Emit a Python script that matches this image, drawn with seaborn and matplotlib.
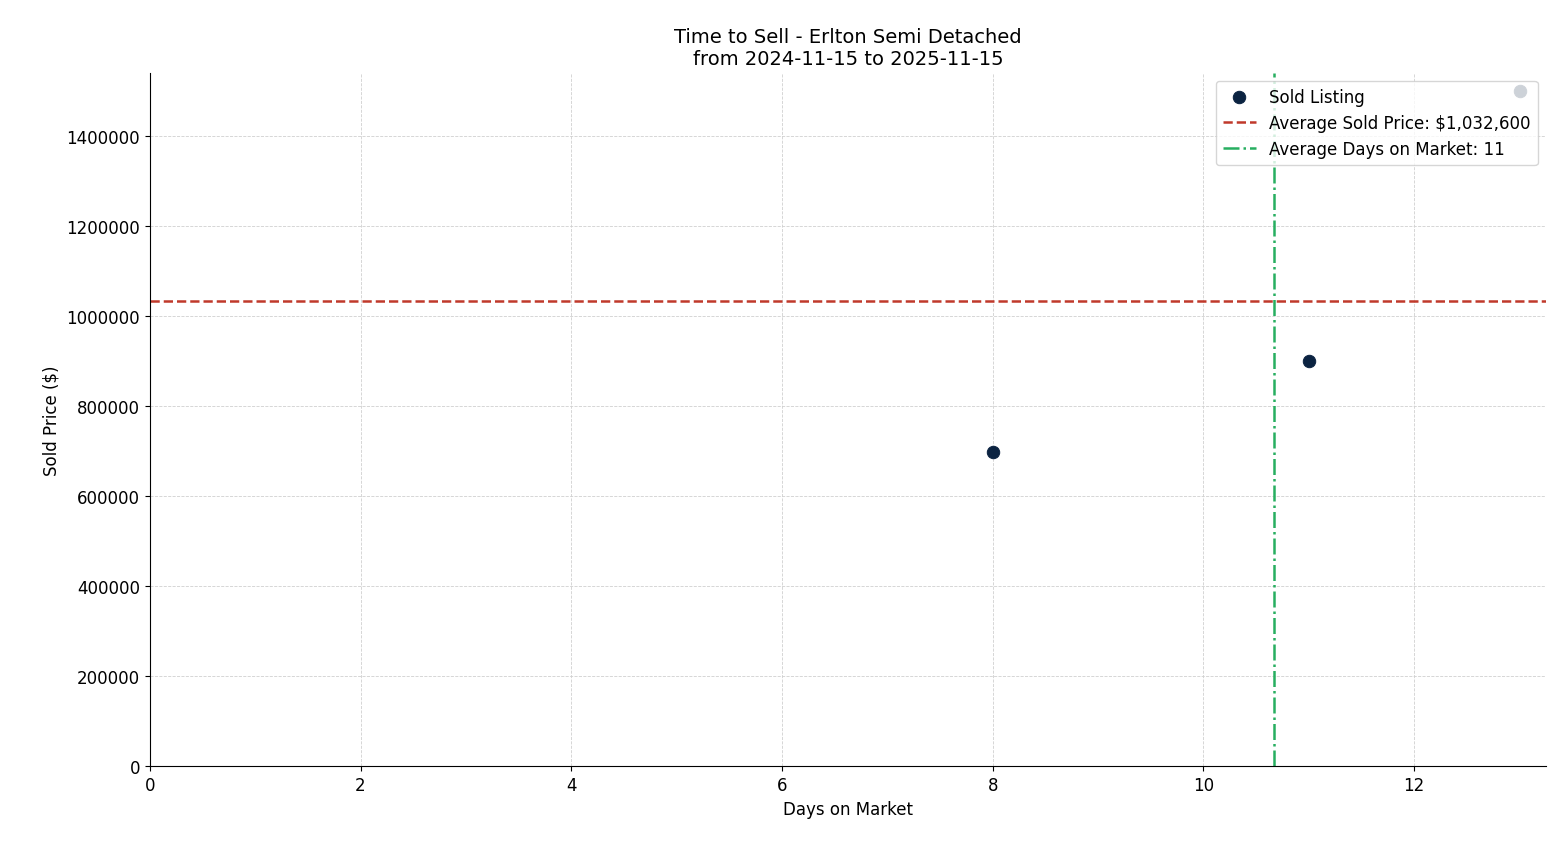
import numpy as np
import pandas as pd
import matplotlib
matplotlib.use("Agg")
import matplotlib.pyplot as plt
import seaborn as sns

days = [8, 11, 13]
prices = [697800, 900000, 1500000]
df = pd.DataFrame({"days": days, "price": prices})

avg_price = df["price"].mean()
avg_days = df["days"].mean()

sns.set_style("ticks")
plt.rcParams["font.family"] = ["DejaVu Sans"]
plt.rcParams["text.color"] = "black"
plt.rcParams["axes.labelcolor"] = "black"
plt.rcParams["xtick.color"] = "black"
plt.rcParams["ytick.color"] = "black"
plt.rcParams["axes.edgecolor"] = "black"

fig, ax = plt.subplots(figsize=(15.6, 8.45), dpi=100)

sns.scatterplot(data=df, x="days", y="price", s=80, color="#0b2341",
                edgecolor="#0b2341", label="Sold Listing", ax=ax, zorder=3)
ax.axhline(avg_price, color="#c0392b", linestyle="--", linewidth=1.8,
           label=f"Average Sold Price: ${avg_price:,.0f}")
ax.axvline(avg_days, color="#27ae60", linestyle="-.", linewidth=1.8,
           label=f"Average Days on Market: {avg_days:.0f}")

ax.set_xlim(0, 13.25)
ax.set_ylim(0, 1540000)
ax.set_xticks([0, 2, 4, 6, 8, 10, 12])
ax.ticklabel_format(axis="y", style="plain")
ax.grid(True, linestyle="--", linewidth=0.6, color="#d0d0d0")
ax.set_axisbelow(True)
sns.despine(ax=ax)

ax.set_title("Time to Sell - Erlton Semi Detached\nfrom 2024-11-15 to 2025-11-15", fontsize=14)
ax.set_xlabel("Days on Market", fontsize=12)
ax.set_ylabel("Sold Price ($)", fontsize=12)
ax.tick_params(labelsize=12)
leg = ax.legend(loc="upper right", fontsize=12, framealpha=0.8)

plt.subplots_adjust(left=0.096, right=0.991, top=0.913, bottom=0.092)
fig.savefig("out.png", dpi=100)
